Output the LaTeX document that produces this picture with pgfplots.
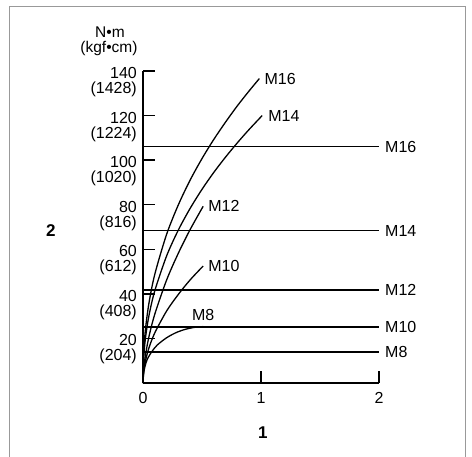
\documentclass[border=0pt]{standalone}
\usepackage{fontspec}
\setmainfont{Liberation Sans}
\usepackage{pgfplots}
\pgfplotsset{compat=1.18}
\begin{document}
\fontsize{16bp}{15bp}\selectfont
\begin{tikzpicture}
\useasboundingbox (0bp,0bp) rectangle (472bp,-457bp);
\draw[line width=1bp, color=black!40] (9bp,-470bp) -- (9bp,-6bp) -- (465bp,-6bp) -- (465bp,-470bp);
\node[inner sep=0pt, font=\fontsize{15.5bp}{15bp}\selectfont] at (110bp,-32bp) {N•m};
\node[inner sep=0pt, font=\fontsize{15.5bp}{15bp}\selectfont] at (109bp,-48bp) {(kgf•cm)};
\begin{axis}[
  at={(143bp,-383bp)}, anchor=south west,
  scale only axis, width=236bp, height=312bp,
  xmin=0, xmax=2, ymin=0, ymax=140,
  axis lines=left, axis line style={-, line width=1.4bp},
  tick align=inside, major tick length=12bp,
  every tick/.style={line width=1.4bp, black},
  xtick={0,1,2}, ytick={20,40,60,80,100,120,140},
  yticklabels={20\\(204), 40\\(408), 60\\(612), 80\\(816), 100\\(1020), 120\\(1224), 140\\(1428)},
  /pgf/number format/assume math mode=true,
  yticklabel style={align=right, anchor=east, inner sep=0pt, xshift=-6bp, yshift=-11bp, font=\fontsize{16bp}{15bp}\selectfont},
  xticklabel style={anchor=north, inner sep=0pt, yshift=-9bp, font=\fontsize{16bp}{15bp}\selectfont},
  xlabel={\bfseries 1}, ylabel={\bfseries 2},
  xlabel style={at={(rel axis cs:0.508,-0.16)}, anchor=center, font=\fontsize{17bp}{17bp}\selectfont},
  ylabel style={at={(rel axis cs:-0.39,0.49)}, rotate=-90, anchor=center, font=\fontsize{17bp}{17bp}\selectfont},
  clip=false,
]
% horizontal limit lines
\addplot[black, line width=1.4bp] coordinates {(0,106) (2,106)};
\addplot[black, line width=1.4bp] coordinates {(0,68.3) (2,68.3)};
\addplot[black, line width=1.4bp] coordinates {(0,41.7) (2,41.7)};
\addplot[black, line width=1.4bp] coordinates {(0,25.1) (2,25.1)};
\addplot[black, line width=1.4bp] coordinates {(0,14.0) (2,14.0)};
% curves
\addplot[black, line width=1.3bp, smooth] coordinates {(0,0) (0.005,12.7) (0.02,23.7) (0.05,35.7) (0.1,48.8) (0.2,66.7) (0.3,80.0) (0.4,91.1) (0.5,100.7) (0.6,109.3) (0.7,117.1) (0.8,124.4) (0.9,131.1) (0.986,136.6)};
\addplot[black, line width=1.3bp, smooth] coordinates {(0,0) (0.005,10.4) (0.02,19.8) (0.05,30.1) (0.1,41.4) (0.2,57.0) (0.3,68.7) (0.4,78.4) (0.5,86.9) (0.6,94.5) (0.7,101.4) (0.8,107.8) (0.9,113.8) (1.01,120.0)};
\addplot[black, line width=1.3bp, smooth] coordinates {(0,0) (0.005,5.5) (0.02,12.2) (0.05,20.7) (0.1,30.9) (0.2,46.2) (0.3,58.3) (0.4,68.9) (0.51,79.3)};
\addplot[black, line width=1.3bp, smooth] coordinates {(0,0) (0.005,4.7) (0.02,9.7) (0.05,15.7) (0.1,22.5) (0.2,32.3) (0.3,39.8) (0.4,46.3) (0.51,52.5)};
\addplot[black, line width=1.3bp, smooth] coordinates {(0,0) (0.005,4) (0.015,7) (0.035,10.5) (0.074,14) (0.12,17) (0.2,20.3) (0.28,22.6) (0.36,24.1) (0.44,25) (0.51,25.3)};
% labels
\begin{scope}[every node/.style={inner sep=0pt, font=\fontsize{16bp}{15bp}\selectfont}]
\node[anchor=west, xshift=6bp] at (axis cs:2,106) {M16};
\node[anchor=west, xshift=6bp] at (axis cs:2,68.3) {M14};
\node[anchor=west, xshift=6bp] at (axis cs:2,41.7) {M12};
\node[anchor=west, xshift=6bp] at (axis cs:2,25.1) {M10};
\node[anchor=west, xshift=6bp] at (axis cs:2,14.0) {M8};
\node[anchor=west, xshift=5bp] at (axis cs:0.986,136.6) {M16};
\node[anchor=west, xshift=6bp] at (axis cs:1.01,120.0) {M14};
\node[anchor=west, xshift=5bp] at (axis cs:0.51,79.3) {M12};
\node[anchor=west, xshift=5bp] at (axis cs:0.51,52.5) {M10};
\node[anchor=center] at (axis cs:0.51,30.6) {M8};
\end{scope}
\end{axis}
\end{tikzpicture}
\end{document}
